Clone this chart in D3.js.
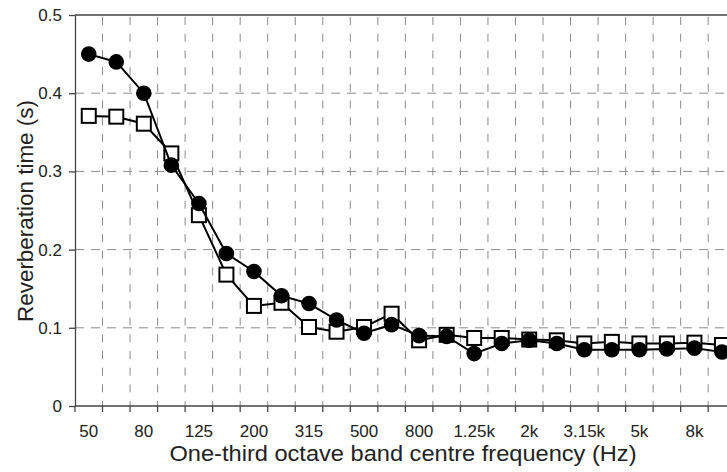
<!DOCTYPE html>
<html><head><meta charset="utf-8">
<script src="https://cdn.jsdelivr.net/npm/d3@7"></script>
<style>
html,body{margin:0;padding:0;background:#fff;overflow:hidden;}
svg{display:block;font-family:"Liberation Sans",Arial,sans-serif;}
</style></head>
<body>
<script>
const bands = ["50","63","80","100","125","160","200","250","315","400","500","630","800","1k","1.25k","1.6k","2k","2.5k","3.15k","4k","5k","6.3k","8k","10k"];
const circleSeries = [0.450,0.440,0.400,0.308,0.259,0.195,0.172,0.141,0.131,0.110,0.093,0.104,0.090,0.089,0.067,0.080,0.084,0.080,0.072,0.072,0.072,0.073,0.074,0.069];
const squareSeries = [0.371,0.370,0.361,0.323,0.244,0.168,0.128,0.132,0.101,0.095,0.101,0.118,0.084,0.091,0.087,0.087,0.085,0.084,0.080,0.082,0.080,0.080,0.081,0.078];
const yTicks = [0,0.1,0.2,0.3,0.4,0.5];
const xLabel = "One-third octave band centre frequency (Hz)";
const yLabel = "Reverberation time (s)";

(function(){
const W = 727, H = 472;
const mLeft = 75, mTop = 15, mBottom = 406, bandW = 27.53;
const svg = d3.select("body").append("svg").attr("width", W).attr("height", H);

const x = d3.scaleBand().domain(bands).range([mLeft, mLeft + bands.length * bandW]).padding(0);
const y = d3.scaleLinear().domain([0, 0.5]).range([mBottom, mTop]);

const grid = svg.append("g");
grid.selectAll("line.h").data(yTicks.filter(v => v > 0 && v < 0.5)).join("line")
  .attr("x1", mLeft).attr("x2", W).attr("y1", d => y(d)).attr("y2", d => y(d))
  .attr("stroke", "#8a8a8a").attr("stroke-width", 1).attr("stroke-dasharray", "9,7");
grid.selectAll("line.v").data(bands.slice(1)).join("line")
  .attr("x1", d => x(d)).attr("x2", d => x(d)).attr("y1", mTop + 2).attr("y2", mBottom)
  .attr("stroke", "#8a8a8a").attr("stroke-width", 1).attr("stroke-dasharray", "8,8.7");

svg.append("line").attr("x1", mLeft).attr("x2", W).attr("y1", y(0.5)).attr("y2", y(0.5))
  .attr("stroke", "#444").attr("stroke-width", 1.3);

const yAxis = svg.append("g").attr("transform", `translate(${mLeft},0)`)
  .call(d3.axisLeft(y).tickValues(yTicks).tickSizeInner(6).tickSizeOuter(0).tickPadding(7)
    .tickFormat(d => d === 0 ? "0" : d.toFixed(1)));
yAxis.select(".domain").attr("stroke", "#444").attr("stroke-width", 1.3);
yAxis.selectAll(".tick line").attr("stroke", "#444").attr("stroke-width", 1.3);
yAxis.selectAll("text").attr("font-size", 17).attr("fill", "#222").attr("font-family", "Liberation Sans, Arial, sans-serif");

const xAxis = svg.append("g").attr("transform", `translate(0,${mBottom})`)
  .call(d3.axisBottom(x).tickSize(0).tickPadding(19)
    .tickFormat((d, i) => i % 2 === 0 ? d : ""));
xAxis.select(".domain").remove();
xAxis.selectAll("text").attr("font-size", 17).attr("fill", "#222").attr("font-family", "Liberation Sans, Arial, sans-serif");
svg.append("line").attr("x1", mLeft).attr("x2", W).attr("y1", mBottom).attr("y2", mBottom)
  .attr("stroke", "#444").attr("stroke-width", 1.3);
svg.append("g").selectAll("line").data(bands).join("line")
  .attr("x1", d => x(d)).attr("x2", d => x(d)).attr("y1", mBottom).attr("y2", mBottom + 6)
  .attr("stroke", "#444").attr("stroke-width", 1.3);

const cx = d => x(d) + x.bandwidth() / 2;
const line = d3.line().x(d => cx(d[0])).y(d => y(d[1]));

const sq = bands.map((b, i) => [b, squareSeries[i]]);
svg.append("path").datum(sq).attr("d", line).attr("fill", "none").attr("stroke", "#000").attr("stroke-width", 2);
const s = 14;
svg.append("g").selectAll("rect").data(sq).join("rect")
  .attr("x", d => cx(d[0]) - s / 2).attr("y", d => y(d[1]) - s / 2)
  .attr("width", s).attr("height", s)
  .attr("fill", "#fff").attr("stroke", "#000").attr("stroke-width", 2);

const ci = bands.map((b, i) => [b, circleSeries[i]]);
svg.append("path").datum(ci).attr("d", line).attr("fill", "none").attr("stroke", "#000").attr("stroke-width", 2);
svg.append("g").selectAll("circle").data(ci).join("circle")
  .attr("cx", d => cx(d[0])).attr("cy", d => y(d[1])).attr("r", 7.8)
  .attr("fill", "#000");

svg.append("text").attr("x", 403).attr("y", 461).attr("text-anchor", "middle")
  .attr("font-size", 22).attr("fill", "#222")
  .attr("textLength", 467).attr("lengthAdjust", "spacingAndGlyphs").text(xLabel);
svg.append("text").attr("transform", "translate(33,211) rotate(-90)").attr("text-anchor", "middle")
  .attr("font-size", 22).attr("fill", "#222")
  .attr("textLength", 222).attr("lengthAdjust", "spacingAndGlyphs").text(yLabel);
})();
</script>
</body></html>
